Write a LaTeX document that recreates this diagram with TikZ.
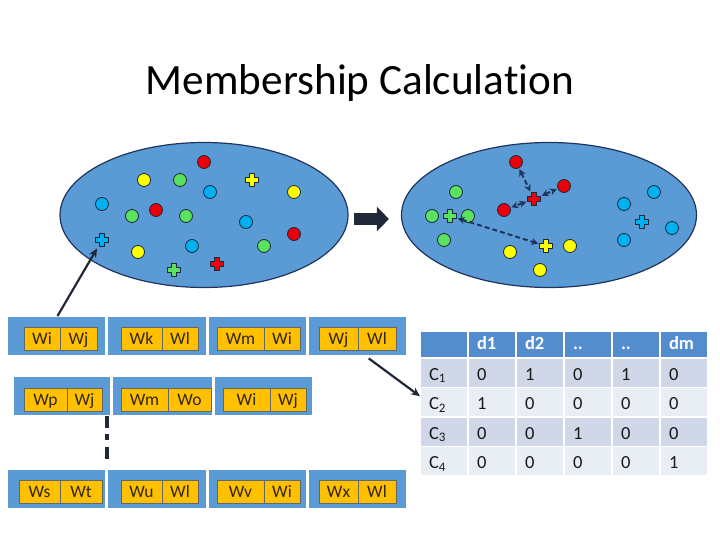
\documentclass[tikz,border=0pt]{standalone}
\usepackage{fontspec}
\setmainfont{Carlito}[Ligatures=NoCommon]
\usetikzlibrary{arrows.meta, positioning, shapes.geometric}
\definecolor{offblue}{RGB}{91,155,213}
\definecolor{hdblue}{RGB}{84,141,205}
\definecolor{bandA}{RGB}{207,215,232}
\definecolor{bandB}{RGB}{233,237,244}
\definecolor{navy}{RGB}{31,52,92}
\definecolor{arrowdark}{RGB}{33,41,56}
\definecolor{dotline}{RGB}{25,40,60}
\definecolor{dotred}{RGB}{235,0,10}
\definecolor{dotyel}{RGB}{255,255,0}
\definecolor{dotgrn}{RGB}{90,225,95}
\definecolor{dotblu}{RGB}{0,176,240}
\definecolor{wyellow}{RGB}{255,192,0}
\definecolor{wtext}{RGB}{50,38,20}
% plus-shaped centroid marker: name, position, colour
\newcommand{\plusdot}[3]{%
  \node[plusbox] (#1) at (#2) {};
  \filldraw[fill=#3, draw=dotline, line width=0.8pt, line join=round]
    (#1.center) ++(-2.8,-6.5) -- ++(5.6,0) -- ++(0,3.7) -- ++(3.7,0)
    -- ++(0,5.6) -- ++(-3.7,0) -- ++(0,3.7) -- ++(-5.6,0) -- ++(0,-3.7)
    -- ++(-3.7,0) -- ++(0,-5.6) -- ++(3.7,0) -- cycle;}

\begin{document}
\begin{tikzpicture}[x=1pt, y=-1pt,
  font=\fontsize{17.5}{20}\selectfont,
  cloud/.style={ellipse, draw=navy, line width=1.2pt, fill=offblue,
                minimum height=145pt},
  dot/.style={circle, draw=dotline, line width=0.8pt, minimum size=13pt,
              inner sep=0pt},
  plusbox/.style={rectangle, minimum size=13pt, inner sep=0pt},
  wbox/.style={rectangle, draw=white, line width=1.2pt, fill=offblue,
               minimum height=40pt, inner sep=0pt, outer sep=0pt},
  wcell/.style={rectangle, draw=black!60, line width=0.8pt, fill=wyellow,
                minimum height=23pt, inner sep=0pt, outer sep=0pt,
                text=wtext, text height=13pt, text depth=1.4pt},
  cell/.style={rectangle, draw=white, line width=1.5pt, minimum width=48pt,
               minimum height=29.5pt, text width=30pt, align=left,
               inner xsep=8pt, inner ysep=0pt, outer sep=0pt,
               font=\fontsize{18.5}{20}\selectfont, text=black!90,
               text height=16pt, text depth=1.5pt},
  hcell/.style={cell, fill=hdblue, minimum height=27pt, text=white,
                font=\fontsize{18.5}{20}\selectfont\bfseries,
                text height=12pt, text depth=3pt},
  ar/.style={-{Stealth[length=9pt, width=8pt]}, line width=2.2pt, draw=arrowdark},
  bigar/.style={-{Triangle[length=12pt, width=24pt]}, line width=12pt,
                draw=arrowdark},
  darr/.style={{Stealth[length=7pt, width=7pt]}-{Stealth[length=7pt, width=7pt]},
               dash pattern=on 5pt off 3pt, line width=2pt, draw=navy,
               shorten <=1pt, shorten >=1pt}]
\useasboundingbox (0,0) rectangle (720,540);

\node[anchor=base, font=\fontsize{43.2}{50}\selectfont] (title) at (360,95)
  {Membership Calculation};

% clouds of points
\node[cloud, minimum width=288pt] (cloudL) at (204,215) {};
\node[cloud, minimum width=295pt] (cloudR) at (549,215) {};
\draw[bigar, shorten <=5pt, shorten >=12pt]
  ([yshift=-4pt]cloudL.east) -- ([yshift=-4pt]cloudR.west);

\foreach \c/\x/\y in {dotred/204/162, dotyel/144/180, dotgrn/180/180,
  dotblu/210/192, dotyel/294/192, dotblu/102/204, dotgrn/132/216,
  dotred/156/210, dotgrn/186/216, dotblu/246/222, dotred/294/234,
  dotyel/138/252, dotblu/192/246, dotgrn/264/246}
  \node[dot, fill=\c] at (\x,\y) {};
\plusdot{Lpy}{252,180}{dotyel}
\plusdot{Lpb}{102,240}{dotblu}
\plusdot{Lpg}{174,270}{dotgrn}
\plusdot{Lpr}{217,264}{dotred}

\foreach \n/\c/\x/\y in {ra/dotred/516/162, rb/dotred/564/186,
  rc/dotred/504/210, ga/dotgrn/456/192, gb/dotgrn/432/216,
  gc/dotgrn/468/216, gd/dotgrn/444/240, ya/dotyel/510/252,
  yb/dotyel/570/246, yc/dotyel/540/270, ba/dotblu/624/204,
  bb/dotblu/654/192, bc/dotblu/672/228, bd/dotblu/624/240}
  \node[dot, fill=\c] (\n) at (\x,\y) {};
\plusdot{Rpr}{534,199}{dotred}
\plusdot{Rpg}{450,216}{dotgrn}
\plusdot{Rpy}{546,246}{dotyel}
\plusdot{Rpb}{642,222}{dotblu}
\draw[darr] (ra) -- (Rpr);
\draw[darr] (Rpr) -- (rb);
\draw[darr] (Rpr) -- (rc);
\draw[darr] (Rpg) -- (Rpy);

% word pair records
\foreach \a/\b/\c/\m/\d/\s/\t [count=\i] in {7/106/24/60/97/Wi/Wj,
  107/207/121/162/198/Wk/Wl, 208/307/217/264/300/Wm/Wi,
  308/407/319/358/396/Wj/Wl}{
  \node[wbox, minimum width={\b-\a}] (w1\i) at ({(\a+\b)/2},336) {};
  \node[wcell, minimum width={\m-\c}] (w1\i-a) at ({(\c+\m)/2},338.5) {\s};
  \node[wcell, minimum width={\d-\m}, right=0pt of w1\i-a] (w1\i-b) {\t};
}
\foreach \a/\b/\c/\m/\d/\s/\t [count=\i] in {13/111/24/67/102/Wp/Wj,
  112/213/121/168/211/Wm/Wo, 214/313/223/270/306/Wi/Wj}{
  \node[wbox, minimum width={\b-\a}] (w2\i) at ({(\a+\b)/2},396) {};
  \node[wcell, minimum width={\m-\c}] (w2\i-a) at ({(\c+\m)/2},399.5) {\s};
  \node[wcell, minimum width={\d-\m}, right=0pt of w2\i-a] (w2\i-b) {\t};
}
\foreach \a/\b/\c/\m/\d/\s/\t [count=\i] in {7/106/19/60/102/Ws/Wt,
  107/207/121/162/198/Wu/Wl, 208/307/217/264/300/Wv/Wi,
  308/407/319/358/396/Wx/Wl}{
  \node[wbox, minimum width={\b-\a}] (w3\i) at ({(\a+\b)/2},489) {};
  \node[wcell, minimum width={\m-\c}] (w3\i-a) at ({(\c+\m)/2},492) {\s};
  \node[wcell, minimum width={\d-\m}, right=0pt of w3\i-a] (w3\i-b) {\t};
}
\draw[line width=4pt, draw=arrowdark, dash pattern=on 12pt off 6pt on 6pt off 7pt]
  ([xshift=-4pt]w21.south east) -- ++(0,45);

% membership table
\foreach \h [count=\j] in {,d1,d2,..,..,dm}
  \node[hcell] (t0\j) at ({420+48*(\j-0.5)},344.5) {\h};
\foreach \f/\r/\a/\b/\c/\d/\e [count=\i] in {bandA/C\textsubscript{1}/0/1/0/1/0,
  bandB/C\textsubscript{2}/1/0/0/0/0, bandA/C\textsubscript{3}/0/0/1/0/0,
  bandB/C\textsubscript{4}/0/0/0/0/1}
  \foreach \v [count=\j] in {\r,\a,\b,\c,\d,\e}
    \node[cell, fill=\f] (t\i\j) at ({420+48*(\j-0.5)},{358+29.5*(\i-0.5)}) {\v};

\draw[ar, shorten >=2pt] ([xshift=1pt]w11.north) -- (Lpb);
\draw[ar, shorten <=4pt] ([xshift=8pt]w14.south) -- ([yshift=6pt]t21.west);
\end{tikzpicture}
\end{document}
